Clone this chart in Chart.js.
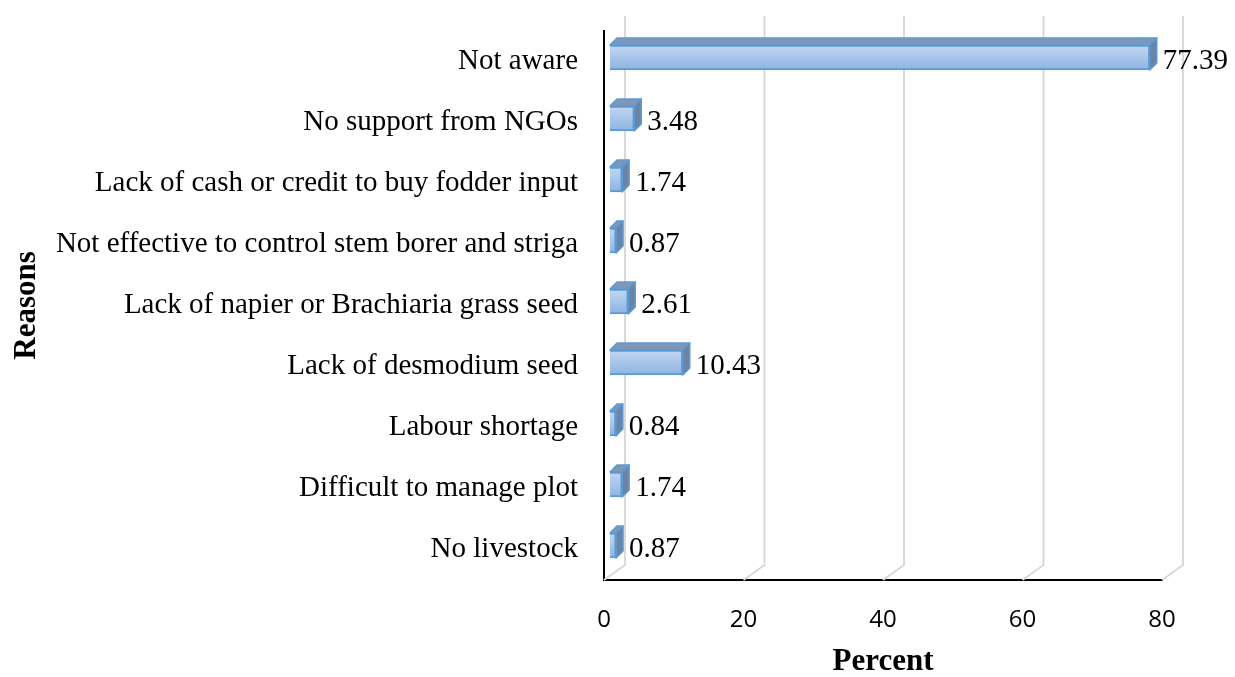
<!DOCTYPE html>
<html lang="en">
<head>
  <meta charset="UTF-8">
  <title>Reasons - Percent</title>
  <script src="https://cdn.jsdelivr.net/npm/chart.js"></script>
  <style>
    body {
      margin: 0;
      background: #fff;
    }
    .wrap {
      width: 1235px;
      height: 677px;
    }
  </style>
</head>
<body>
  <div class="wrap">
    <canvas id="reasonsChart" width="1235" height="677"></canvas>
  </div>

  <script>
    const reasons = [
      "Not aware",
      "No support from NGOs",
      "Lack of cash or credit to buy fodder input",
      "Not effective to control stem borer and striga",
      "Lack of napier or Brachiaria grass seed",
      "Lack of desmodium seed",
      "Labour shortage",
      "Difficult to manage plot",
      "No livestock"
    ];
    const percents = [77.39, 3.48, 1.74, 0.87, 2.61, 10.43, 0.84, 1.74, 0.87];
    const percentTicks = [0, 20, 40, 60, 80];

    // fake 3d look
    const barShift = { x: 6, y: -4 };
    const depth = { x: 7, y: -7 };
    const wallDepth = { x: 21, y: -15 };

    const serif = "'Liberation Serif', 'Times New Roman', serif";

    const threeD = {
      id: 'threeD',
      beforeDatasetsDraw(chart) {
        const ctx = chart.ctx;
        const xs = chart.scales.x;
        const { top, bottom } = chart.chartArea;
        ctx.save();
        ctx.strokeStyle = '#d9d9d9';
        ctx.lineWidth = 2;
        percentTicks.forEach(v => {
          const x = xs.getPixelForValue(v);
          ctx.beginPath();
          ctx.moveTo(x, bottom);
          ctx.lineTo(x + wallDepth.x, bottom + wallDepth.y);
          ctx.lineTo(x + wallDepth.x, top + wallDepth.y);
          ctx.stroke();
        });
        ctx.restore();
        ctx.save();
        ctx.translate(barShift.x, barShift.y);
      },
      afterDatasetsDraw(chart) {
        const ctx = chart.ctx;
        const meta = chart.getDatasetMeta(0);
        meta.data.forEach((bar, i) => {
          const { x, y, base, height } = bar.getProps(['x', 'y', 'base', 'height'], true);
          const t = y - height / 2, b = y + height / 2;
          ctx.strokeStyle = '#5b9bd5';
          ctx.lineWidth = 1.5;
          ctx.lineJoin = 'round';
          // top face
          ctx.beginPath();
          ctx.moveTo(base, t);
          ctx.lineTo(x, t);
          ctx.lineTo(x + depth.x, t + depth.y);
          ctx.lineTo(base + depth.x, t + depth.y);
          ctx.closePath();
          ctx.fillStyle = '#7f97b7';
          ctx.fill();
          ctx.stroke();
          // side face
          ctx.beginPath();
          ctx.moveTo(x, t);
          ctx.lineTo(x + depth.x, t + depth.y);
          ctx.lineTo(x + depth.x, b + depth.y);
          ctx.lineTo(x, b);
          ctx.closePath();
          ctx.fillStyle = '#6b84a6';
          ctx.fill();
          ctx.stroke();
        });
        ctx.restore();

        // value labels
        ctx.save();
        ctx.font = '29px ' + serif;
        ctx.fillStyle = '#000';
        ctx.textAlign = 'left';
        ctx.textBaseline = 'middle';
        meta.data.forEach((bar, i) => {
          const { x, y } = bar.getProps(['x', 'y'], true);
          ctx.fillText(percents[i].toFixed(2), x + barShift.x + depth.x + 6, y);
        });
        ctx.restore();
      }
    };

    function barFill(c) {
      const ys = c.chart.scales.y;
      const cy = ys ? ys.getPixelForValue(c.dataIndex) : NaN;
      if (!isFinite(cy)) return '#a8c4ea';
      const g = c.chart.ctx.createLinearGradient(0, cy - 13, 0, cy + 13);
      g.addColorStop(0, '#c3d8f1');
      g.addColorStop(1, '#8db2e2');
      return g;
    }

    new Chart(document.getElementById('reasonsChart'), {
      type: 'bar',
      data: {
        labels: reasons,
        datasets: [{
          data: percents,
          backgroundColor: barFill,
          borderColor: '#5b9bd5',
          borderWidth: 2,
          barThickness: 25
        }]
      },
      options: {
        indexAxis: 'y',
        responsive: false,
        animation: false,
        layout: { padding: { top: 31, right: 73, left: 0, bottom: 0 } },
        plugins: {
          legend: { display: false },
          tooltip: { enabled: false }
        },
        scales: {
          x: {
            min: 0,
            max: 80,
            ticks: {
              stepSize: 20,
              padding: 26,
              color: '#000',
              font: { family: "'Open Sans', sans-serif", size: 24 }
            },
            grid: { display: false, drawTicks: false },
            border: { display: true, color: '#000', width: 2 },
            title: {
              display: true,
              text: 'Percent',
              color: '#000',
              padding: { top: 0, bottom: 0 },
              font: { family: serif, size: 31, weight: 'bold', lineHeight: 1 }
            },
            afterFit(scale) { scale.height = 97; }
          },
          y: {
            ticks: {
              padding: 26,
              color: '#000',
              font: { family: serif, size: 29 }
            },
            grid: { display: false, drawTicks: false },
            border: { display: true, color: '#000', width: 2 },
            title: {
              display: true,
              text: 'Reasons',
              color: '#000',
              padding: { top: 11, bottom: 0 },
              font: { family: serif, size: 31, weight: 'bold', lineHeight: 1 }
            },
            afterFit(scale) {
              scale.width = 604;
              scale.paddingTop = 0;
              scale.paddingBottom = 0;
            }
          }
        }
      },
      plugins: [threeD]
    });
  </script>
</body>
</html>
